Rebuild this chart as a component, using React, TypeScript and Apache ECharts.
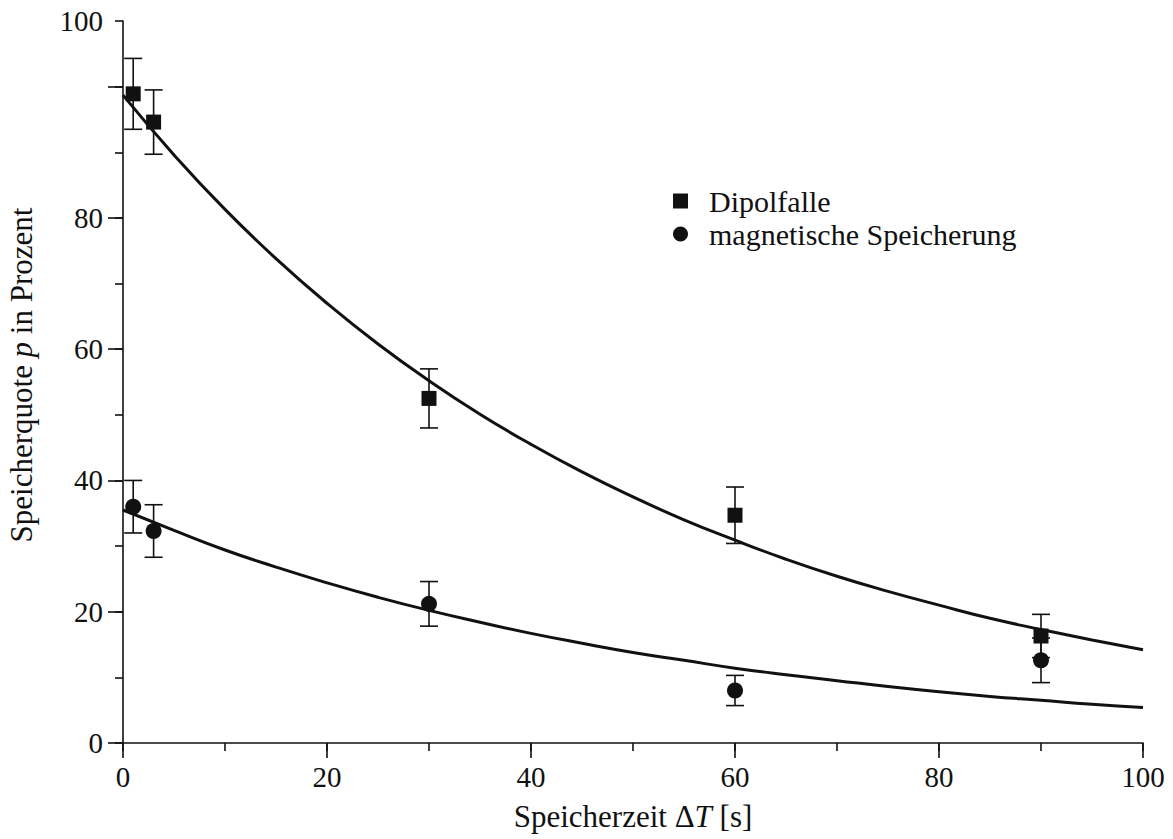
import React, { useEffect, useRef } from "react";
import * as echarts from "echarts";

// Fit curves
const fitX = [0, 5, 10, 15, 20, 25, 30, 35, 40, 45, 50, 55, 60, 65, 70, 75, 80, 85, 90, 95, 100];
const dipolFit = [98.7, 89.6, 81.3, 73.8, 67.0, 60.8, 55.2, 50.1, 45.5, 41.3, 37.5, 34.0, 30.9, 28.0, 25.4, 23.1, 21.0, 19.0, 17.3, 15.7, 14.2];
const magFit = [35.5, 32.4, 29.4, 26.8, 24.4, 22.2, 20.2, 18.4, 16.7, 15.2, 13.8, 12.6, 11.4, 10.4, 9.5, 8.6, 7.8, 7.1, 6.5, 5.9, 5.4];

// Measurements
const dipolTimes = [1, 3, 30, 60, 90];
const dipolValues = [98.9, 94.6, 52.5, 34.7, 16.3];
const dipolErrors = [5.4, 4.9, 4.5, 4.3, 3.3];
const magTimes = [1, 3, 30, 60, 90];
const magValues = [36.0, 32.3, 21.2, 8.0, 12.6];
const magErrors = [4.0, 4.0, 3.4, 2.3, 3.4];

// Tick labels
const xTickValues = [0, 20, 40, 60, 80, 100];
const yTickValues = [0, 20, 40, 60, 80, 110];
const yTickLabels = ["0", "20", "40", "60", "80", "100"];

const seriesNames = ["Dipolfalle", "magnetische Speicherung"];

const INK = "#111111";
const FONT = "'Liberation Serif', 'DejaVu Serif', serif";
const NAME_SIZE = 31;

export default function App() {
  const ref = useRef<HTMLDivElement>(null);

  useEffect(() => {
    if (!ref.current) return;
    const chart = echarts.init(ref.current, null, { renderer: "svg" });

    const errData = (xs: number[], vs: number[], es: number[]) =>
      xs.map((x, i) => [x, vs[i] - es[i], vs[i] + es[i]]);

    const errorSeries = (data: number[][]) => ({
      type: "custom",
      xAxisIndex: 0,
      yAxisIndex: 0,
      silent: true,
      z: 3,
      data,
      renderItem: (params: any, api: any) => {
        const x = api.value(0);
        const lo = api.coord([x, api.value(1)]);
        const hi = api.coord([x, api.value(2)]);
        const w = 9;
        const st = { stroke: INK, lineWidth: 1.6 };
        return {
          type: "group",
          children: [
            { type: "line", shape: { x1: lo[0], y1: lo[1], x2: hi[0], y2: hi[1] }, style: st },
            { type: "line", shape: { x1: lo[0] - w, y1: lo[1], x2: lo[0] + w, y2: lo[1] }, style: st },
            { type: "line", shape: { x1: hi[0] - w, y1: hi[1], x2: hi[0] + w, y2: hi[1] }, style: st },
          ],
        };
      },
    });

    const axisLineStyle = { lineStyle: { color: INK, width: 1.6 } };
    const tickStyle = { color: INK, width: 1.6 };

    chart.setOption({
      animation: false,
      backgroundColor: "#ffffff",
      grid: [
        { left: 123, right: 30, top: 21, bottom: 96, outerBoundsMode: "none", containLabel: false },
        { left: 123, right: 30, top: 86.6, bottom: 96, outerBoundsMode: "none", containLabel: false },
      ],
      legend: {
        orient: "vertical",
        left: 668,
        top: 181,
        itemWidth: 15,
        itemHeight: 15,
        itemGap: 3,
        data: [
          { name: seriesNames[0], icon: "rect" },
          { name: seriesNames[1], icon: "circle" },
        ],
        itemStyle: { opacity: 1, color: INK },
        textStyle: {
          fontFamily: FONT,
          fontSize: 30,
          color: INK,
          padding: [0, 0, 0, 16],
        },
      },
      xAxis: [
        {
          type: "value",
          gridIndex: 0,
          min: 0,
          max: 100,
          interval: 10,
          position: "bottom",
          axisLine: { show: true, ...axisLineStyle },
          axisTick: { show: true, length: 8, lineStyle: tickStyle },
          splitLine: { show: false },
          axisLabel: {
            margin: 19,
            color: INK,
            fontFamily: FONT,
            fontSize: 29,
            formatter: (v: number) => (xTickValues.indexOf(v) >= 0 ? String(v) : ""),
          },
          name: "Speicherzeit {d|Δ}{i|T} [s]",
          nameLocation: "middle",
          nameGap: 58,
          nameTextStyle: {
            color: INK,
            fontFamily: FONT,
            fontSize: NAME_SIZE,
            rich: {
              d: { fontFamily: FONT, fontSize: NAME_SIZE, color: INK },
              i: { fontFamily: FONT, fontSize: NAME_SIZE, fontStyle: "italic", color: INK },
            },
          },
        },
        {
          type: "value",
          gridIndex: 0,
          min: 0,
          max: 100,
          interval: 20,
          position: "bottom",
          axisLine: { show: false },
          axisTick: { show: true, length: 15, lineStyle: tickStyle },
          axisLabel: { show: false },
          splitLine: { show: false },
        },
        {
          type: "value",
          gridIndex: 1,
          min: 0,
          max: 100,
          show: false,
        },
      ],
      yAxis: [
        {
          type: "value",
          gridIndex: 0,
          min: 0,
          max: 110,
          interval: 10,
          axisLine: { show: true, ...axisLineStyle },
          axisTick: { show: true, length: 8, lineStyle: tickStyle },
          splitLine: { show: false },
          axisLabel: {
            margin: 20,
            color: INK,
            fontFamily: FONT,
            fontSize: 29,
            showMaxLabel: true,
            formatter: (v: number) => {
              const i = yTickValues.indexOf(v);
              return i >= 0 ? yTickLabels[i] : "";
            },
          },
          name: "Speicherquote {i|p} in Prozent",
          nameLocation: "middle",
          nameGap: 86,
          nameRotate: 90,
          nameTextStyle: {
            color: INK,
            fontFamily: FONT,
            fontSize: NAME_SIZE,
            padding: [0, 0, 0, 14],
            rich: {
              i: { fontFamily: FONT, fontSize: NAME_SIZE, fontStyle: "italic", color: INK },
            },
          },
        },
        {
          type: "value",
          gridIndex: 1,
          min: 0,
          max: 100,
          interval: 20,
          axisLine: { show: false },
          axisTick: { show: true, length: 15, lineStyle: tickStyle },
          axisLabel: { show: false },
          splitLine: { show: false },
        },
      ],
      series: [
        {
          type: "line",
          xAxisIndex: 0,
          yAxisIndex: 0,
          data: fitX.map((x, i) => [x, dipolFit[i]]),
          smooth: true,
          showSymbol: false,
          silent: true,
          lineStyle: { color: INK, width: 3 },
          z: 2,
        },
        {
          type: "line",
          xAxisIndex: 0,
          yAxisIndex: 0,
          data: fitX.map((x, i) => [x, magFit[i]]),
          smooth: true,
          showSymbol: false,
          silent: true,
          lineStyle: { color: INK, width: 3 },
          z: 2,
        },
        errorSeries(errData(dipolTimes, dipolValues, dipolErrors)),
        errorSeries(errData(magTimes, magValues, magErrors)),
        {
          name: seriesNames[0],
          type: "scatter",
          xAxisIndex: 0,
          yAxisIndex: 0,
          symbol: "rect",
          symbolSize: 15,
          itemStyle: { color: INK, opacity: 1 },
          data: dipolTimes.map((x, i) => [x, dipolValues[i]]),
          z: 5,
        },
        {
          name: seriesNames[1],
          type: "scatter",
          xAxisIndex: 0,
          yAxisIndex: 0,
          symbol: "circle",
          symbolSize: 16,
          itemStyle: { color: INK, opacity: 1 },
          data: magTimes.map((x, i) => [x, magValues[i]]),
          z: 5,
        },
      ],
    });

    return () => chart.dispose();
  }, []);

  return (
    <div
      ref={ref}
      style={{ position: "fixed", left: 0, top: 0, width: 1173, height: 839, background: "#fff" }}
    />
  );
}
